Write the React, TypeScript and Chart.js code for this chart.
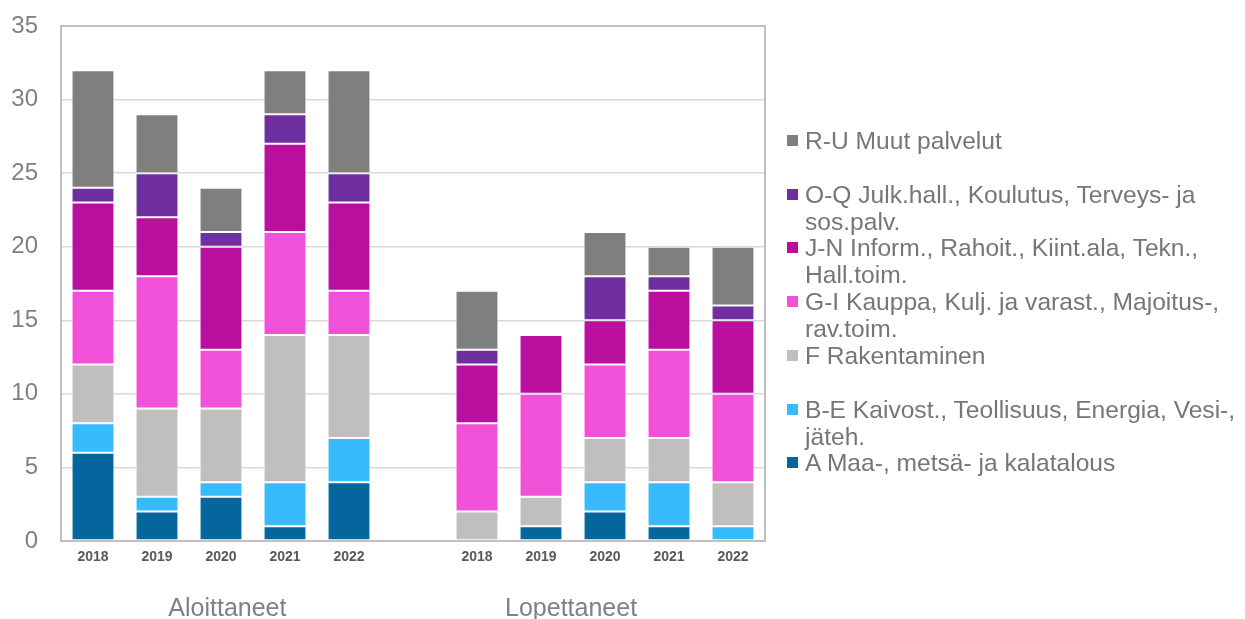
import React, { useEffect, useRef } from 'react';
import { Chart, registerables } from 'chart.js';

Chart.register(...registerables);

const YEARS = ['2018', '2019', '2020', '2021', '2022'];
const GROUPS = ['Aloittaneet', 'Lopettaneet'];
const GROUP_CENTER_INDEX = [2.1, 7.47];
const CATEGORIES = [...YEARS, '', ...YEARS];
const Y_MIN = 0;
const Y_MAX = 35;
const Y_STEP = 5;

const SERIES_NAMES = [
  'A Maa-, metsä- ja kalatalous',
  'B-E Kaivost., Teollisuus, Energia, Vesi-,\njäteh.',
  'F Rakentaminen',
  'G-I Kauppa, Kulj. ja varast., Majoitus-,\nrav.toim.',
  'J-N Inform., Rahoit., Kiint.ala, Tekn.,\nHall.toim.',
  'O-Q Julk.hall., Koulutus, Terveys- ja\nsos.palv.',
  'R-U Muut palvelut',
];
const SERIES_COLORS = ['#04669c', '#37bbfd', '#c0bfbe', '#f150d8', '#b90e9e', '#702f9f', '#7f7f7f'];

// Aloittaneet (started) 2018-2022
const A_ALOIT = [6, 2, 3, 1, 4];
const BE_ALOIT = [2, 1, 1, 3, 3];
const F_ALOIT = [4, 6, 5, 10, 7];
const GI_ALOIT = [5, 9, 4, 7, 3];
const JN_ALOIT = [6, 4, 7, 6, 6];
const OQ_ALOIT = [1, 3, 1, 2, 2];
const RU_ALOIT = [8, 4, 3, 3, 7];

// Lopettaneet (closed) 2018-2022
const A_LOPET = [0, 1, 2, 1, 0];
const BE_LOPET = [0, 0, 2, 3, 1];
const F_LOPET = [2, 2, 3, 3, 3];
const GI_LOPET = [6, 7, 5, 6, 6];
const JN_LOPET = [4, 4, 3, 4, 5];
const OQ_LOPET = [1, 0, 3, 1, 1];
const RU_LOPET = [4, 0, 3, 2, 4];

const ALOIT = [A_ALOIT, BE_ALOIT, F_ALOIT, GI_ALOIT, JN_ALOIT, OQ_ALOIT, RU_ALOIT];
const LOPET = [A_LOPET, BE_LOPET, F_LOPET, GI_LOPET, JN_LOPET, OQ_LOPET, RU_LOPET];

const FONT = '"Liberation Sans", Arial, sans-serif';

const framePlugin = {
  id: 'frameAndGroups',
  beforeDatasetsDraw(chart: any) {
    const { ctx, chartArea } = chart;
    const { left, right, top, bottom } = chartArea;
    ctx.save();
    ctx.strokeStyle = '#bfbfbf';
    ctx.lineWidth = 2;
    ctx.strokeRect(left, top, right - left, bottom - top);
    ctx.restore();
  },
  afterDraw(chart: any) {
    const { ctx } = chart;
    const xs = chart.scales.x;
    ctx.save();
    ctx.font = `25px ${FONT}`;
    ctx.fillStyle = '#808080';
    ctx.textAlign = 'center';
    ctx.textBaseline = 'middle';
    GROUPS.forEach((g, i) => {
      ctx.fillText(g, xs.getPixelForValue(GROUP_CENTER_INDEX[i]), 609);
    });
    ctx.restore();
  },
};

export default function App() {
  const canvasRef = useRef<HTMLCanvasElement | null>(null);

  useEffect(() => {
    const canvas = canvasRef.current;
    if (!canvas) return;
    const datasets = SERIES_NAMES.map((name, i) => ({
      label: name.replace('\n', ' '),
      data: [...ALOIT[i], null, ...LOPET[i]],
      backgroundColor: SERIES_COLORS[i],
      borderColor: 'rgba(255,255,255,0.55)',
      borderWidth: (c: any) => (c.raw ? 1 : 0),
      borderSkipped: false,
      barPercentage: 0.67,
      categoryPercentage: 1,
    }));
    const chart = new Chart(canvas, {
      type: 'bar',
      data: { labels: CATEGORIES, datasets },
      plugins: [framePlugin],
      options: {
        animation: false,
        responsive: false,
        maintainAspectRatio: false,
        layout: { padding: { left: 0, top: 26, right: 480, bottom: 0 } },
        plugins: {
          legend: { display: false },
          tooltip: { enabled: false },
        },
        scales: {
          x: {
            stacked: true,
            grid: { display: false, drawTicks: false },
            border: { display: false },
            ticks: {
              color: '#595959',
              font: { family: FONT, size: 14, weight: 'bold' },
              padding: 8,
              autoSkip: false,
              maxRotation: 0,
            },
            afterFit: (s: any) => {
              s.height = 78;
              s.paddingLeft = 0;
              s.paddingRight = 0;
            },
          },
          y: {
            stacked: true,
            min: Y_MIN,
            max: Y_MAX,
            grid: { color: '#d9d9d9', lineWidth: 1.5, drawTicks: false },
            border: { display: false },
            ticks: {
              stepSize: Y_STEP,
              color: '#808080',
              font: { family: FONT, size: 24 },
              padding: 23,
            },
            afterFit: (s: any) => {
              s.width = 61;
              s.paddingTop = 0;
              s.paddingBottom = 0;
            },
          },
        },
      },
    });
    return () => chart.destroy();
  }, []);

  const order = [6, 5, 4, 3, 2, 1, 0];

  return (
    <div
      style={{
        position: 'fixed',
        left: 0,
        top: 0,
        width: 1245,
        height: 619,
        background: '#ffffff',
        overflow: 'hidden',
      }}
    >
      <canvas ref={canvasRef} width={1245} height={619} style={{ display: 'block' }} />
      <div
        style={{
          position: 'absolute',
          left: 787,
          top: 127,
          fontFamily: FONT,
          fontSize: 24.6,
          lineHeight: '27px',
          color: '#767676',
        }}
      >
        {order.map((idx, i) => (
          <div
            key={idx}
            style={{
              position: 'absolute',
              left: 0,
              top: i * 53.7,
              display: 'flex',
              alignItems: 'flex-start',
              whiteSpace: 'pre',
            }}
          >
            <span
              style={{
                width: 11,
                height: 11,
                background: SERIES_COLORS[idx],
                marginTop: 8,
                marginRight: 7,
                flex: 'none',
              }}
            />
            <span>{SERIES_NAMES[idx]}</span>
          </div>
        ))}
      </div>
    </div>
  );
}
